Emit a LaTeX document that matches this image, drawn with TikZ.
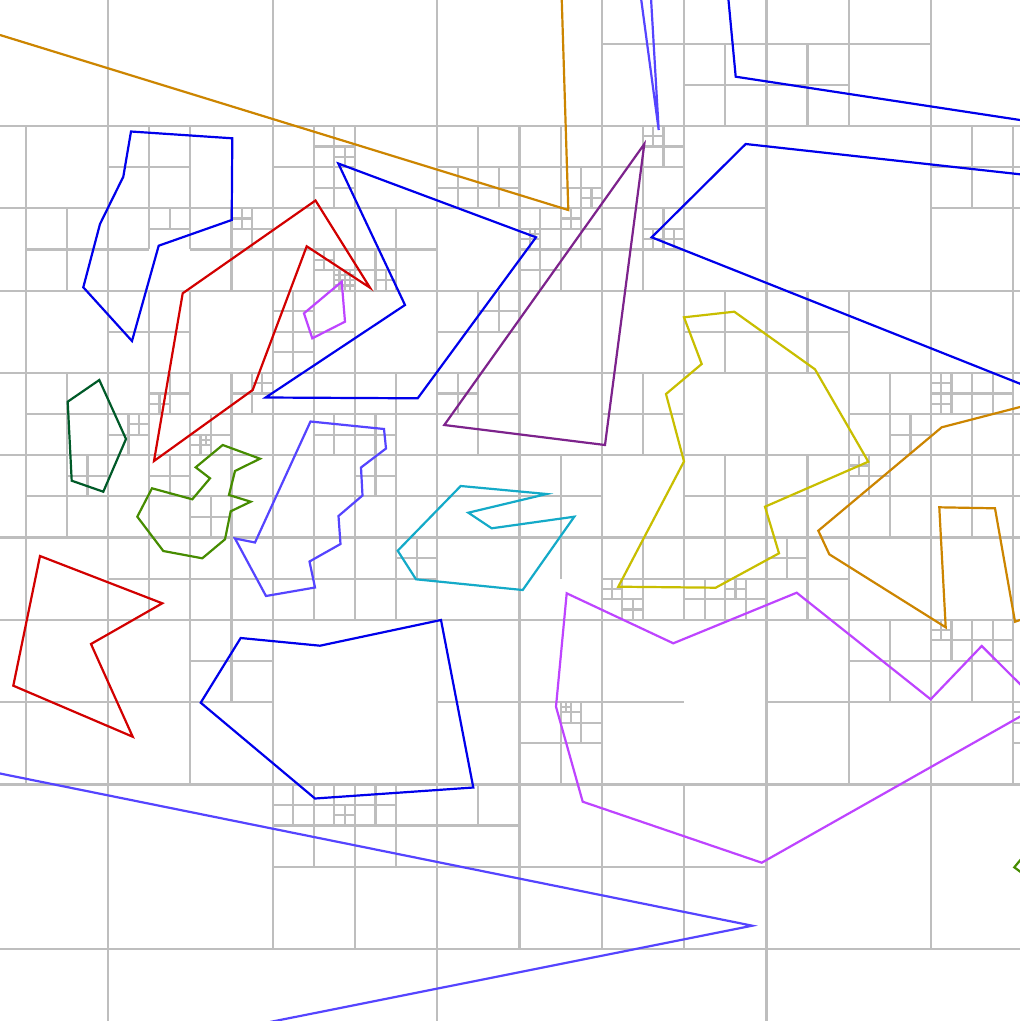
\documentclass[tikz,border=0pt]{standalone}
\usepackage{tikz}
\definecolor{gridc}{RGB}{190,190,190}
\definecolor{corange}{RGB}{204,133,0}
\definecolor{cbluev}{RGB}{85,68,255}
\definecolor{cblue}{RGB}{0,0,235}
\definecolor{cred}{RGB}{210,0,0}
\definecolor{cviolet}{RGB}{190,68,255}
\definecolor{cpurple}{RGB}{125,35,140}
\definecolor{cdgreen}{RGB}{0,90,40}
\definecolor{cgreen}{RGB}{70,140,0}
\definecolor{ccyan}{RGB}{20,170,200}
\definecolor{cyellow}{RGB}{200,190,0}
\newcommand{\qc}[3]{\draw[gridline] ({#1+#3/2},#2) -- ({#1+#3/2},{#2+#3}) (#1,{#2+#3/2}) -- ({#1+#3},{#2+#3/2});}
\begin{document}
\begin{tikzpicture}[x=1pt,y=-1pt,
  gridline/.style={draw=gridc, line width=2.2pt},
  poly/.style={line width=2.2pt, line join=miter}]
\useasboundingbox (0,0) rectangle (1020,1021);
\fill[white] (0,0) rectangle (1020,1021);
\begin{scope}
\clip (0,0) rectangle (1020,1021);
\begin{scope}[shift={(108pt,-949pt)}, x=82.3pt, y=82.3pt]
% main lines
\foreach \g in {0,4,8} {
  \draw[gridline] (\g,-1) -- (\g,12);
  \draw[gridline] (-2,\g) -- (12,\g);
}
% level 4
\qc{-4}{8}{4} \qc{0}{8}{4} \qc{4}{8}{4} \qc{8}{8}{4}
\qc{-4}{4}{4} \qc{0}{4}{4} \qc{4}{4}{4} \qc{8}{4}{4}
\qc{-4}{0}{4} \qc{0}{0}{4} \qc{4}{0}{4} \qc{8}{0}{4}
% level 2
\qc{6}{10}{2} \qc{8}{10}{2}
\qc{-2}{8}{2} \qc{2}{8}{2} \qc{4}{8}{2} \qc{6}{8}{2} \qc{10}{8}{2}
\draw[gridline] (1,8.5) -- (1,10) (0,9) -- (2,9);
\qc{-2}{6}{2} \qc{0}{6}{2} \qc{2}{6}{2} \qc{4}{6}{2} \qc{6}{6}{2} \qc{8}{6}{2} \qc{10}{6}{2}
\qc{-2}{4}{2} \qc{0}{4}{2} \qc{2}{4}{2} \qc{4}{4}{2} \qc{6}{4}{2} \qc{8}{4}{2} \qc{10}{4}{2}
\qc{-2}{2}{2} \qc{0}{2}{2} \qc{4}{2}{2} \qc{8}{2}{2} \qc{10}{2}{2}
\qc{2}{0}{2} \qc{4}{0}{2} \qc{6}{0}{2}
% level 1
\qc{7}{10}{1} \qc{8}{10}{1}
\qc{-1}{8}{1} \qc{0}{9}{1} \qc{1}{8}{1}
\draw[gridline] (0.5,8.5) -- (0.5,9) (0,8.5) -- (0.5,8.5);
\qc{2}{9}{1} \qc{2}{8}{1} \qc{3}{8}{1}
\qc{4}{9}{1} \qc{5}{9}{1} \qc{5}{8}{1}
\qc{6}{9}{1} \qc{6}{8}{1}
\qc{10}{9}{1} \qc{11}{9}{1}
\qc{-1}{6}{1} \qc{0}{7}{1} \qc{0}{6}{1} \qc{1}{6}{1} \qc{2}{7}{1} \qc{2}{6}{1} \qc{3}{6}{1} \qc{4}{7}{1} \qc{4}{6}{1}
\qc{7}{7}{1} \qc{6}{6}{1} \qc{8}{7}{1} \qc{9}{6}{1} \qc{10}{6}{1} \qc{11}{6}{1}
\qc{-1}{5}{1} \qc{0}{5}{1} \qc{1}{5}{1} \qc{0}{4}{1} \qc{1}{4}{1} \qc{2}{5}{1} \qc{3}{5}{1} \qc{2}{4}{1} \qc{3}{4}{1}
\qc{5}{5}{1} \qc{7}{5}{1} \qc{6}{4}{1} \qc{7}{4}{1} \qc{8}{5}{1} \qc{9}{5}{1} \qc{8}{4}{1} \qc{10}{5}{1} \qc{11}{5}{1}
\qc{1}{3}{1} \qc{5}{2}{1} \qc{9}{3}{1} \qc{10}{3}{1} \qc{11}{2}{1}
\qc{2}{1}{1} \qc{3}{1}{1}
\draw[gridline] (4.5,1.5) -- (4.5,2) (4,1.5) -- (5,1.5);
% level 0.5
\draw[gridline] (0.75,8.75) -- (0.75,9) (0.5,8.75) -- (1,8.75);
\qc{1.5}{8.5}{0.5} \qc{2.5}{9.5}{0.5} \qc{2.5}{9}{0.5} \qc{2.5}{8}{0.5} \qc{3}{8}{0.5}
\qc{4}{9}{0.5} \qc{4.5}{9}{0.5} \qc{5.5}{9}{0.5} \qc{5.5}{8.5}{0.5} \qc{5}{8.5}{0.5} \qc{5}{8}{0.5}
\qc{6.5}{9.5}{0.5} \qc{6.5}{8.5}{0.5}
\qc{0}{6}{0.5} \qc{0.5}{6.5}{0.5} \qc{1.5}{6.5}{0.5} \qc{1}{6}{0.5} \qc{2}{7.5}{0.5} \qc{2}{7}{0.5}
\qc{2.5}{6}{0.5} \qc{3}{6}{0.5} \qc{4.5}{7.5}{0.5} \qc{4}{6.5}{0.5} \qc{9.5}{6}{0.5} \qc{10}{6.5}{0.5} \qc{10.5}{6.5}{0.5}
\qc{-0.5}{5.5}{0.5} \qc{0.5}{5.5}{0.5} \qc{1}{5}{0.5} \qc{3}{5.5}{0.5} \qc{3.5}{4.5}{0.5}
\qc{6}{4}{0.5} \qc{7}{4}{0.5} \qc{7.5}{4}{0.5} \qc{9}{5.5}{0.5} \qc{8}{4.5}{0.5}
\qc{10}{3.5}{0.5} \qc{10.5}{3.5}{0.5} \qc{11}{2.5}{0.5} \qc{5.5}{2.5}{0.5}
\qc{2}{1.5}{0.5} \qc{2.5}{1.5}{0.5} \qc{3}{1.5}{0.5}
% level 0.25
\qc{1.5}{8.75}{0.25} \qc{2.75}{9.5}{0.25} \qc{2.5}{8.25}{0.25} \qc{2.75}{8}{0.25} \qc{3.25}{8}{0.25}
\qc{5.75}{9}{0.25} \qc{5.5}{8.75}{0.25} \qc{5}{8.5}{0.25} \qc{6.5}{9.75}{0.25} \qc{6.5}{8.5}{0.25} \qc{6.75}{8.5}{0.25}
\qc{0.25}{6.25}{0.25} \qc{0.5}{6.5}{0.25} \qc{1.75}{6.75}{0.25} \qc{1}{6}{0.25}
\qc{10}{6.75}{0.25} \qc{10}{6.5}{0.25} \qc{9}{5.75}{0.25} \qc{6.25}{4}{0.25} \qc{6}{4.25}{0.25} \qc{7.5}{4.25}{0.25}
\qc{10}{3.75}{0.25} \qc{11}{2.75}{0.25} \qc{5.5}{2.75}{0.25} \qc{2.75}{1.5}{0.25}
% level 0.125
\qc{2.75}{8}{0.125} \qc{2.875}{8}{0.125} \qc{2.75}{8.125}{0.125} \qc{2.875}{8.125}{0.125}
\qc{5.125}{8.625}{0.125} \qc{1.125}{6.125}{0.125} \qc{5.5}{2.875}{0.125}
% extra partial segments
\draw[gridline] (4,5.5) -- (5,5.5);
\draw[gridline] (6,3) -- (7,3);
\draw[gridline] (5.5,4.5) -- (5.5,5);
\end{scope}
% ---- shapes ----
\draw[poly, corange] (0,35) -- (568.3,210) -- (561.7,-2);
\draw[poly, cbluev] (641,-2) -- (658.7,130) -- (651,-2);
\draw[poly, cbluev] (0,773.5) -- (752.3,925.7) -- (270,1022);
\draw[poly, cbluev] (310.5,421.5) -- (384,429) -- (386,448.5) -- (361,467.5) -- (362.5,495.5) -- (338.5,516) -- (340.5,544) -- (309.5,561.5) -- (315,587.5) -- (266,596) -- (235,538.5) -- (255,542.5) -- cycle;
\draw[poly, cblue] (728.3,-2) -- (735.7,76.7) -- (1022,120.3);
\draw[poly, cblue] (1022,174.5) -- (745.7,144) -- (651.7,237.3) -- (1022,384.5);
\draw[poly, cblue] (131,131.5) -- (232.3,138.3) -- (231.7,220) -- (158.7,245.7) -- (132,341) -- (83.3,287.3) -- (100,224) -- (123.3,176.7) -- cycle;
\draw[poly, cblue] (338.3,163.5) -- (536,237.3) -- (417.7,398.3) -- (265.7,397.5) -- (405,305) -- cycle;
\draw[poly, cblue] (240.7,638) -- (320,645.7) -- (441,620) -- (473.3,787.5) -- (315,798.5) -- (200.7,702.7) -- cycle;
\draw[poly, cred] (315.5,200.5) -- (370,287.7) -- (306.7,246.3) -- (252.7,390) -- (154,461) -- (182.7,293.3) -- cycle;
\draw[poly, cred] (40,556) -- (162.3,603.3) -- (91,644) -- (132.7,736.7) -- (13.3,685.7) -- cycle;
\draw[poly, cviolet] (304,313.3) -- (341.7,281.7) -- (345,321.7) -- (312.3,338.3) -- cycle;
\draw[poly, cviolet] (1022,686) -- (981.7,646) -- (930.7,699.3) -- (796.7,592.7) -- (673.3,643.3) -- (566.7,593.3) -- (556,706.7) -- (582.7,801.7) -- (761.7,862.7) -- (1022,715.5);
\draw[poly, cpurple] (644.3,144) -- (605,445) -- (444.3,425) -- cycle;
\draw[poly, cdgreen] (67.7,401.7) -- (99.3,380) -- (126,439) -- (103.3,491.7) -- (71.7,480.7) -- cycle;
\draw[poly, cgreen] (222.7,445) -- (260,458.7) -- (235,471) -- (229,495) -- (250.7,501.7) -- (230.7,511.3) -- (225,539.3) -- (202.3,558.3) -- (163.3,551) -- (137.3,516.7) -- (152,488.3) -- (192.3,499.3) -- (210,478.3) -- (195.7,467.3) -- cycle;
\draw[poly, cgreen] (1022,858) -- (1014.3,867.3) -- (1022,873);
\draw[poly, ccyan] (460.7,486) -- (546.7,494) -- (468.3,512.7) -- (491.7,528.3) -- (574.3,516.7) -- (522.7,590) -- (416,579.3) -- (397.7,550.7) -- cycle;
\draw[poly, cyellow] (684,317.3) -- (734.3,311.7) -- (815,369.3) -- (868.3,461.7) -- (765,506.7) -- (779,553.3) -- (715.7,587.7) -- (618.3,586.7) -- (684,461.4) -- (666,394) -- (701.7,364) -- cycle;
\draw[poly, corange] (1022,406.5) -- (941.7,427.3) -- (818.3,530.7) -- (829.3,554.3) -- (945.7,627.3) -- (939.3,507.3) -- (995,508.3) -- (1015,621.7) -- (1022,619.3);
\end{scope}
\end{tikzpicture}
\end{document}
